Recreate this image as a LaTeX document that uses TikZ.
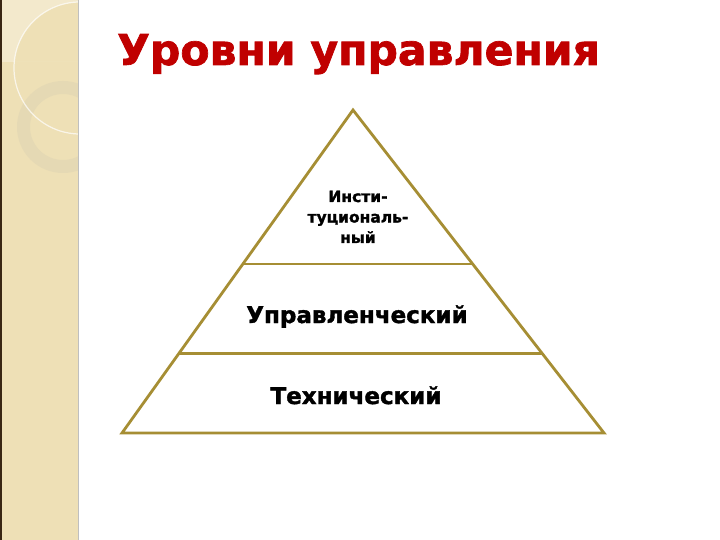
\documentclass[tikz,border=0pt]{standalone}
\usepackage{fontspec}
\setmainfont{DejaVu Sans}
\newfontfamily\heavyfont{DejaVu Sans Bold}[FakeBold=1.6]
\usetikzlibrary{positioning}
\usetikzlibrary{calc}

\definecolor{stripfill}{HTML}{EEE0B6}
\definecolor{ringfill}{HTML}{E5D9B4}
\definecolor{pyramidline}{HTML}{A68E34}
\definecolor{titlered}{HTML}{C00000}

\begin{document}
\begin{tikzpicture}[
x=1pt,y=-1pt,
% pyramid outline and dividers
edgeline/.style={
	draw=pyramidline,
	line width=2.8pt,
	line join=miter},
% text inside the levels
level/.style={
	font=\heavyfont\fontsize{23}{26}\selectfont,
	text=black, align=center, inner sep=0pt},
toplevel/.style={
	font=\heavyfont\fontsize{15.5}{20.5}\selectfont,
	text=black, align=center, inner sep=0pt},
heading/.style={
	font=\heavyfont\fontsize{42.5}{48}\selectfont,
	text=titlered, inner sep=0pt},
]

% page and decorated left strip
\useasboundingbox (0,0) rectangle (720,540);
\fill[white] (0,0) rectangle (720,540);
\fill[stripfill] (0,0) rectangle (79,540);
\begin{scope}
	\clip (2,0) rectangle (78,540);
	\begin{scope}
		\clip (0,0) rectangle (80,62);
		\fill[white,opacity=.3,even odd rule] (0,0) rectangle (80,62) (80,68) circle (66);
	\end{scope}
	\fill[ringfill,even odd rule] (63,127) circle (46) (63,127) circle (33);
	\draw[white,opacity=.7,line width=1.2pt] (80,68) circle (66);
\end{scope}
\draw[black!70!brown,line width=1.5pt] (1,0) -- (1,540);
\draw[black!25,line width=1pt] (78.5,0) -- (78.5,540);

% title
\node (title) [heading,anchor=base west] at (117,65) {Уровни управления};

% pyramid corners
\coordinate (apex) at (353,110);
\coordinate (baseL) at (122,433);
\coordinate (baseR) at (604,433);
\coordinate (midL1) at ($(apex)!0.477!(baseL)$);
\coordinate (midR1) at ($(apex)!0.477!(baseR)$);
\coordinate (midL2) at ($(apex)!0.755!(baseL)$);
\coordinate (midR2) at ($(apex)!0.755!(baseR)$);

\draw[edgeline] (apex) -- (baseL) -- (baseR) -- cycle;
\draw[edgeline] (midL1) -- (midR1);
\draw[edgeline] (midL2) -- (midR2);

% level names
\node (inst) [toplevel,anchor=base] at (358,243) {Инсти-\\туциональ-\\ный};
\node (upr) [level,anchor=base] at (357,323) {Управленческий};
\node (tech) [level,anchor=base] at (356,404) {Технический};

\end{tikzpicture}
\end{document}
